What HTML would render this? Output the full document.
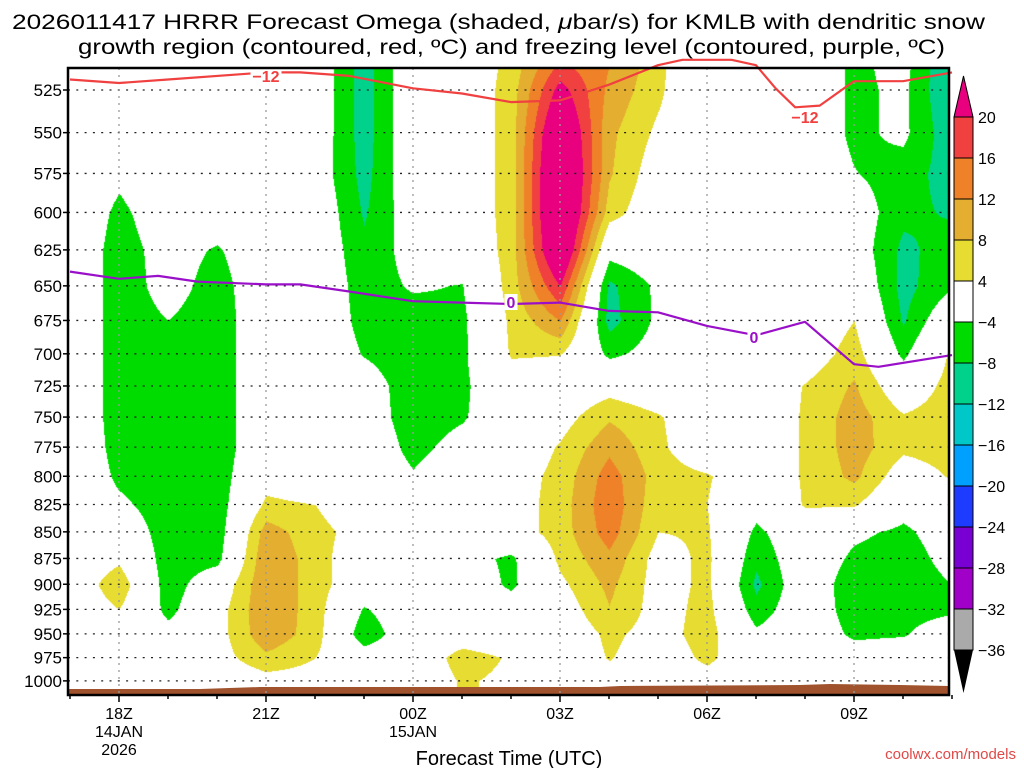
<!DOCTYPE html>
<html><head><meta charset="utf-8"><style>
html,body{margin:0;padding:0;background:#fff;}
#wrap{position:relative;width:1024px;height:768px;overflow:hidden;font-family:"Liberation Sans",sans-serif;}
canvas{position:absolute;left:0;top:0;}
svg{position:absolute;left:0;top:0;}
</style></head><body>
<div id="wrap">
<canvas id="cv" width="1024" height="768"></canvas>
<svg id="sv" width="1024" height="768" xmlns="http://www.w3.org/2000/svg"></svg>
</div>
<script>
// ---- data ----
const hours = [17,18,19,20,21,22,23,24,25,26,27,28,29,30,31,32,33,34,35];
const levels = [500,525,550,575,600,625,650,675,700,725,750,775,800,825,850,875,900,925,950,975,1000];
const pressureTicks = [525,550,575,600,625,650,675,700,725,750,775,800,825,850,875,900,925,950,975,1000];
const timeTicks = [18,21,24,27,30,33];
const timeLabels = ["18Z","21Z","00Z","03Z","06Z","09Z"];
const dateLabels = [["14JAN","2026"],[],["15JAN"],[],[],[]];
const cbLevels = [20,16,12,8,4,-4,-8,-12,-16,-20,-24,-28,-32,-36];
// omega columns, one array per forecast hour (levels 500..1000)
const w17 = [0,0,0,0,0,0,1,1,1,1,1,1,1,0,0,0,0,0,0,0,0];
const w18 = [0,0,0,-3,-5,-6,-6.5,-6.5,-6.5,-6.5,-6.5,-6,-5,-3,0,3,7,4,0,0,0];
const w19 = [0,0,0,0,-1,-2,-2,-4,-6,-6.5,-6.5,-6.5,-6.5,-6.5,-6.5,-6.5,-6.5,-5.5,-2,0,0];
const w20 = [0,0,0,0,-1,-4.5,-6,-6.5,-6.5,-6.5,-6.5,-6.5,-6.5,-6.5,-6.5,-5.5,0,2,2,2,0];
const w21 = [0,0,0,0,0,0,0,0,0,0,0,0,2,5,10,11.5,11.5,11.5,11,7,2];
const w22 = [-0.5,-0.5,-0.5,-1,0,0,0,0,0,0,0,0,0,4,5.5,6,6,6,6,4,2];
const w23 = [-10,-10,-10,-9.5,-8.5,-7,-6,-5.5,-4.3,-1.5,-1,0,0,0,2,0,0,-4.5,-7,-1,0];
const w24 = [0.5,0.5,0.5,0,-1,-2,-3.5,-6,-6.5,-6.5,-6.5,-5.5,-3.5,-1,0,0,0,0,0,0,0];
const w25 = [0,0,0,0,0,-1,-4.2,-5,-5,-5,-4.5,-2,0,0,0,-2,0,0,1,6,4.5];
const w26 = [5,6,6,6,6,6,6,5,4.5,1,0,0,1.5,1.5,1.5,-5,-5,-1,0,3.5,3];
const w27 = [13,22,28,30,30,28,20,12,4.2,0,2,4.5,5.5,6,6,5,3,1,0,0,0];
const w28 = [13,11,9,8.5,6,-2,-9,-9.5,-5,2,7.5,11,14,15,14,11,9,7.8,5,4.3,2];
const w29 = [6,5,3,1,0,0,-3,-3,-2,0,4.5,5,6,5,4,2,2,2,2,1,0];
const w30 = [-5,-3,0,0,0,0,0,0,0,0,0,0,4.5,4,4.5,5,5,5.5,6,5,2];
const w31 = [0,0,0,0,0,0,0,0,0,0,0,0,0,-2,-5,-7,-9,-6.5,-3,0,0];
const w32 = [0,0,0,0,0,0,0,0,1,4.3,4.6,4.6,4.6,4.5,0,0,0,0,0,0,0];
const w33 = [-5,-5,-5,-3.8,-1,-1,1,4,6,8.5,10,10,9,4.5,-3,-5,-7,-6.5,-5,-1,0];
const w34 = [-2,-3,-3,-6,-7,-9,-9.5,-8.5,-5,0,4.5,5,1,-2,-5,-6.5,-7,-6,-4.5,0,0];
const w35 = [-13,-12.5,-11,-10,-8.5,-6,-4.5,1,5,6,6.5,6,4.5,0,-1,-2,-4,-5,0,0,0];
const omegaCols = [w17,w18,w19,w20,w21,w22,w23,w24,w25,w26,w27,w28,w29,w30,w31,w32,w33,w34,w35];
// dendritic -12C line (hour, hPa) and freezing level
const dgzHours = [17,18,19,21,21.7,22.7,24,25,26,27,28,29,29.5,30.5,31,31.4,31.8,32.3,33,34,35];
const dgzPres = [519,521,519,515,515,517,524,527,532,531,522,511,508,508,511,524,535,534,520,520,515];
const frzHours = [17,18,18.8,19.6,21,21.7,22.7,24,25,26,27,28,29,30,31,32,33,33.5,35];
const frzPres = [640,645,643,647,649,649,654,661,662,663,662,668,669,679,686,676,708,710,701];

// ---- axes ----
const X0=119, PXH=49, Y0=90, YS=917;
const xOf = h => X0 + (h-18)*PXH;
const yOf = p => Y0 + YS*Math.log(p/525);
const PL=68, PR=949, PT=68, PB=695;

// ---- shading ----
const colorsPos = [[20,'#e8007e'],[16,'#f04040'],[12,'#ef8228'],[8,'#e4ae30'],[4,'#e6dc32']];
const colorsNeg = [[-36,'#000000'],[-32,'#aaaaaa'],[-28,'#a000c8'],[-24,'#7800d2'],[-20,'#1e3cff'],[-16,'#00a0ff'],[-12,'#00c8c8'],[-8,'#00d28c'],[-4,'#00dc00']];
function hex(c){return [parseInt(c.substr(1,2),16),parseInt(c.substr(3,2),16),parseInt(c.substr(5,2),16)];}
function colorFor(v){
  for(const [t,c] of colorsPos) if(v>=t) return hex(c);
  for(const [t,c] of colorsNeg) if(v<=t) return hex(c);
  return null;
}
const cv=document.getElementById('cv'); const ctx=cv.getContext('2d');
const img=ctx.createImageData(PR-PL,PB-PT);
for(let py=PT;py<PB;py++){
  const p=525*Math.exp((py-Y0)/YS);
  let r=(p-500)/25; r=Math.max(0,Math.min(levels.length-1.0001,r));
  const r0=Math.floor(r), fr=r-r0;
  for(let px=PL;px<PR;px++){
    const h=18+(px-X0)/PXH;
    let c=h-hours[0]; c=Math.max(0,Math.min(hours.length-1.0001,c));
    const c0=Math.floor(c), fc=c-c0;
    const a=omegaCols[c0][r0], b=omegaCols[c0+1][r0], d=omegaCols[c0][r0+1], e=omegaCols[c0+1][r0+1];
    const v=(a*(1-fc)+b*fc)*(1-fr)+(d*(1-fc)+e*fc)*fr;
    const col=colorFor(v); const i=((py-PT)*(PR-PL)+(px-PL))*4;
    if(col){img.data[i]=col[0];img.data[i+1]=col[1];img.data[i+2]=col[2];img.data[i+3]=255;}
    else{img.data[i]=255;img.data[i+1]=255;img.data[i+2]=255;img.data[i+3]=255;}
  }
}
ctx.putImageData(img,PL,PT);

// ---- svg ----
const NS='http://www.w3.org/2000/svg'; const sv=document.getElementById('sv');
function mk(tag,attrs,parent){const e=document.createElementNS(NS,tag);for(const k in attrs)e.setAttribute(k,attrs[k]);(parent||sv).appendChild(e);return e;}

// terrain
const terr=mk('polygon',{points:`${PL},${PB} ${PL},689 200,689 260,687 600,687 620,686 800,685 830,684 900,685 ${PR},686 ${PR},${PB}`,fill:'#a0522d'});



// gridlines
for(const p of pressureTicks){
  const y=yOf(p);
  const g=mk('line',{x1:PL,x2:PR,y1:y,y2:y,stroke:'#222','stroke-width':1.3,'stroke-dasharray':'2,6.3'});
  
  
}
for(const h of timeTicks){
  const x=xOf(h);
  const g=mk('line',{x1:x,x2:x,y1:PT,y2:PB,stroke:'#999','stroke-width':1.3,'stroke-dasharray':'2,5'});
  
  
}

// contour lines
function line(hs,ps,color,name){
  const pts=hs.map((h,i)=>xOf(h).toFixed(1)+','+yOf(ps[i]).toFixed(1)).join(' ');
  const l=mk('polyline',{points:pts,fill:'none',stroke:color,'stroke-width':2.2,'stroke-linejoin':'round'});
  
  
}
line(dgzHours,dgzPres,'#f04040','dgz-line');
line(frzHours,frzPres,'#9a10c8','freezing-line');
function clabel(x,y,txt,color,name){
  const w=txt.length*9+4;
  const r=mk('rect',{x:x-w/2,y:y-8,width:w,height:16,fill:'#fff'});
  
  
  const t=mk('text',{x:x,y:y+6,'text-anchor':'middle','font-size':16,'font-weight':'bold',fill:color});
  t.textContent=txt;
  
  
}
clabel(266,76,'\u221212','#f04040','dgz-label-1');
clabel(805,117,'\u221212','#f04040','dgz-label-2');
clabel(511,302,'0','#9a10c8','frz-label-1');
clabel(754,337,'0','#9a10c8','frz-label-2');

// frame
const fr=mk('rect',{x:PL,y:PT,width:PR-PL,height:PB-PT,fill:'none',stroke:'#000','stroke-width':2.5});



// y ticks & labels
for(const p of pressureTicks){
  const y=yOf(p);
  const tk=mk('line',{x1:PL-5,x2:PL,y1:y,y2:y,stroke:'#000','stroke-width':1.5});
  
  
  const t=mk('text',{x:62,y:y+6,'text-anchor':'end','font-size':17,fill:'#000'});
  t.textContent=p;
  
  
}
// x ticks & labels
for(let h=17;h<=35;h++){
  const x=xOf(h); const big=timeTicks.includes(h);
  const tk=mk('line',{x1:x,x2:x,y1:PB,y2:PB+(big?7:4),stroke:'#000','stroke-width':1.5});
  
  
}
timeTicks.forEach((h,i)=>{
  const x=xOf(h);
  const t=mk('text',{x:x,y:719,'text-anchor':'middle','font-size':16,fill:'#000'});
  t.textContent=timeLabels[i];
  
  
  dateLabels[i].forEach((s,j)=>{
    const d=mk('text',{x:x,y:737+j*18,'text-anchor':'middle','font-size':16,fill:'#000'});
    d.textContent=s;
    
    
  });
});
const xt=mk('text',{x:509,y:765,'text-anchor':'middle','font-size':20,fill:'#000'});
xt.textContent='Forecast Time (UTC)';


const cr=mk('text',{x:1016,y:759,'text-anchor':'end','font-size':15,fill:'#e04848'});
cr.textContent='coolwx.com/models';



// title
const t1=mk('text',{x:12,y:29,'font-size':21,fill:'#000',textLength:973,lengthAdjust:'spacingAndGlyphs'});
t1.innerHTML='2026011417 HRRR Forecast Omega (shaded, <tspan font-style="italic">\u03bc</tspan>bar/s) for KMLB with dendritic snow';


const t2=mk('text',{x:78,y:54,'font-size':21,fill:'#000',textLength:867,lengthAdjust:'spacingAndGlyphs'});
t2.textContent='growth region (contoured, red, \u00baC) and freezing level (contoured, purple, \u00baC)';



// colorbar
const CBX=954, CBW=19, CBT=117, CBS=41;
const boxColors=['#f04040','#ef8228','#e4ae30','#e6dc32','#ffffff','#00dc00','#00d28c','#00c8c8','#00a0ff','#1e3cff','#7800d2','#a000c8','#aaaaaa'];
const tri1=mk('polygon',{points:`${CBX},${CBT} ${CBX+CBW},${CBT} ${CBX+CBW/2},76`,fill:'#e8007e',stroke:'#000','stroke-width':1});


boxColors.forEach((c,i)=>{
  const b=mk('rect',{x:CBX,y:CBT+i*CBS,width:CBW,height:CBS,fill:c,stroke:'#000','stroke-width':1});
  
  
});
const cbBot=CBT+boxColors.length*CBS;
const tri2=mk('polygon',{points:`${CBX},${cbBot} ${CBX+CBW},${cbBot} ${CBX+CBW/2},${cbBot+43}`,fill:'#000'});


cbLevels.forEach((v,i)=>{
  const t=mk('text',{x:978,y:CBT+i*CBS+6,'font-size':16,fill:'#000'});
  t.textContent=(v<0?'\u2212'+(-v):String(v));
  
  
});
</script>
</body></html>
